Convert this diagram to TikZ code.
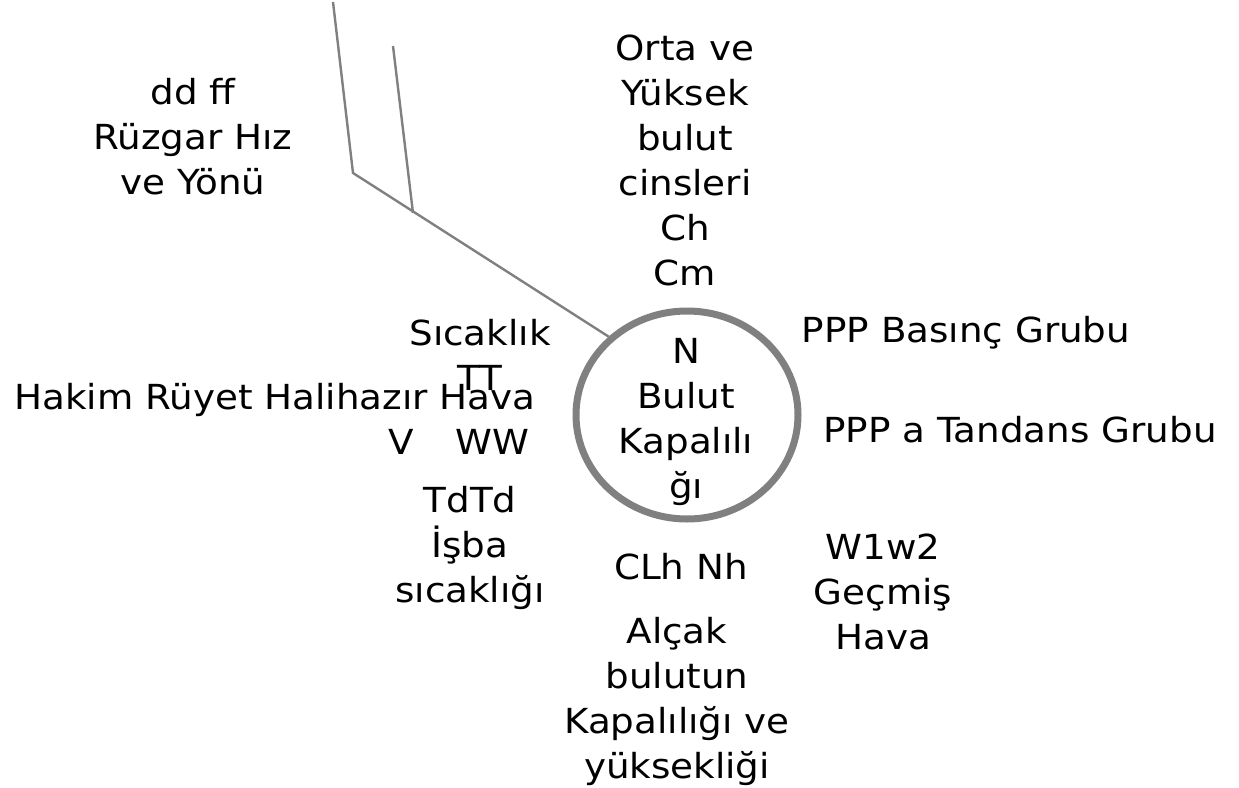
\documentclass[tikz,border=0pt]{standalone}
\usepackage{fontspec}
\setmainfont{DejaVu Sans}[FakeStretch=1.08]
\usetikzlibrary{shapes.geometric}
\definecolor{linegray}{RGB}{128,128,128}
\tikzset{
  lbl/.style={align=center, inner sep=0pt, font=\fontsize{34.5}{45}\selectfont, text=black},
  barb/.style={draw=linegray, line width=2.4pt},
  ring/.style={ellipse, draw=linegray, line width=7pt, minimum width=222pt, minimum height=208pt, inner sep=0pt}
}
\begin{document}
\begin{tikzpicture}[x=1pt,y=-1pt]
\useasboundingbox (0,0) rectangle (1239,787);
% station circle
\node[ring] (circ) at (687,415) {};
\node[lbl] (ncl) at (686,422) {N\\Bulut\\Kapalılı\\ğı};
% wind barb
\coordinate (knee) at (353,173);
\coordinate (tip) at (333,2);
\coordinate (bbase) at (413,213);
\coordinate (btip) at (393,46);
\draw[barb] (circ.135) -- (knee) -- (tip);
\draw[barb] (bbase) -- (btip);
% labels
\node[lbl] (wind) at (193,137) {dd ff\\Rüzgar Hız\\ve Yönü};
\node[lbl] (orta) at (685,160) {Orta ve\\Yüksek\\bulut\\cinsleri\\Ch\\Cm};
\node[lbl] (hakim) at (275,400) {Hakim Rüyet Halihazır Hava};
\node[lbl] (sic) at (480,355) {Sıcaklık\\TT};
\node[lbl] (vww) at (459,442) {V\hspace{41pt}WW};
\node[lbl] (tdtd) at (470,548) {TdTd\\İşba\\sıcaklığı};
\node[lbl] (ppp) at (966,333) {PPP Basınç Grubu};
\node[lbl] (ppa) at (1020,430) {PPP a Tandans Grubu};
\node[lbl] (w1w2) at (883,592) {W1w2\\Geçmiş\\Hava};
\node[lbl] (clh) at (681,567) {CLh Nh};
\node[lbl] (alcak) at (677,701) {Alçak\\bulutun\\Kapalılığı ve\\yüksekliği};
\end{tikzpicture}
\end{document}
